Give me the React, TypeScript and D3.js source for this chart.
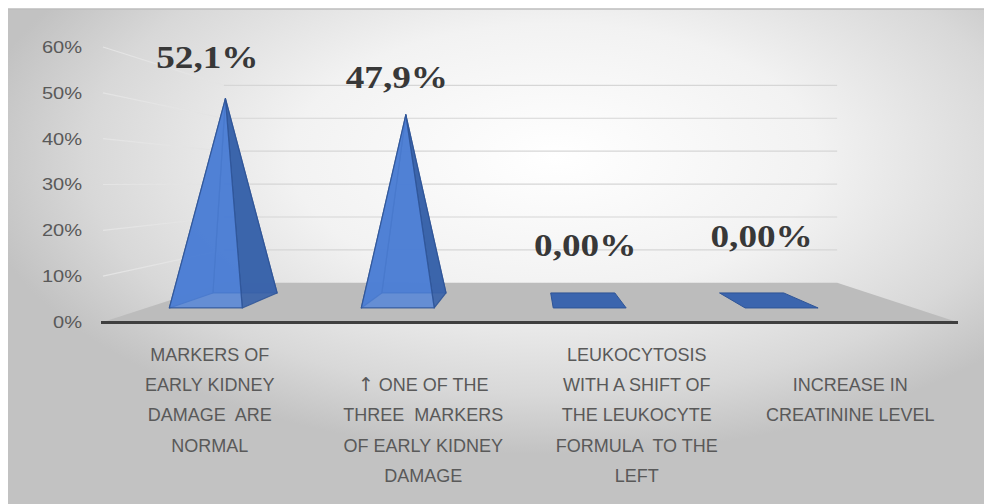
import React, { useRef, useEffect } from 'react';
import * as d3 from 'd3';

// chart data
const categories = [
  'MARKERS OF EARLY KIDNEY DAMAGE ARE NORMAL',
  '↑ ONE OF THE THREE MARKERS OF EARLY KIDNEY DAMAGE',
  'LEUKOCYTOSIS WITH A SHIFT OF THE LEUKOCYTE FORMULA TO THE LEFT',
  'INCREASE IN CREATININE LEVEL',
];
// wrapped label lines as they appear under the axis ('' = blank line)
const categoryLines: string[][] = [
  ['MARKERS OF', 'EARLY KIDNEY', 'DAMAGE  ARE', 'NORMAL'],
  ['', '↑ ONE OF THE', 'THREE  MARKERS', 'OF EARLY KIDNEY', 'DAMAGE'],
  ['LEUKOCYTOSIS', 'WITH A SHIFT OF', 'THE LEUKOCYTE', 'FORMULA  TO THE', 'LEFT'],
  ['', 'INCREASE IN', 'CREATININE LEVEL'],
];
const values = [0.521, 0.479, 0, 0];
const valueLabels = ['52,1%', '47,9%', '0,00%', '0,00%'];
const yTicks = [0, 0.1, 0.2, 0.3, 0.4, 0.5, 0.6];
const yTickLabels = ['0%', '10%', '20%', '30%', '40%', '50%', '60%'];
// manual nudges of the data labels (dragged labels in the original)
const labelNudge = [[-18, -31], [-9, -27], [-1, -44], [-5, -53]];

const W = 984;
const H = 504;

const App: React.FC = () => {
  const ref = useRef<SVGSVGElement>(null);

  useEffect(() => {
    const svg = d3.select(ref.current);
    svg.selectAll('*').remove();

    const plot = { left: 103, right: 957, bottom: 322, top: 47 };
    const vp = { x: 532, y: 183 }; // vanishing point of the 3d view
    const sFloorBack = 0.718;
    const sBarFront = 0.899;
    const sBarBack = 0.791;
    const sBarMid = (sBarFront + sBarBack) / 2;

    const x = d3.scaleBand<string>()
      .domain(categories)
      .range([plot.left, plot.right])
      .paddingInner(0)
      .paddingOuter(0);

    const y = d3.scaleLinear()
      .domain([0, 0.6])
      .range([plot.bottom, plot.top]);

    const bw = x.bandwidth();
    const barShift = -0.19 * bw;
    const barHalf = 0.19 * bw;

    const proj = (X: number, v: number, s: number): [number, number] => [
      vp.x + (X - vp.x) * s,
      vp.y + (y(v) - vp.y) * s,
    ];

    // background
    const defs = svg.append('defs');
    const bg = defs.append('radialGradient')
      .attr('id', 'bg')
      .attr('cx', 0.56).attr('cy', 0.3).attr('r', 0.6);
    bg.append('stop').attr('offset', 0).attr('stop-color', '#ffffff');
    bg.append('stop').attr('offset', 0.45).attr('stop-color', '#f2f2f2');
    bg.append('stop').attr('offset', 0.8).attr('stop-color', '#d8d8d8');
    bg.append('stop').attr('offset', 1).attr('stop-color', '#c2c2c2');

    svg.append('rect')
      .attr('x', 8).attr('y', 9)
      .attr('width', W - 8).attr('height', H - 9)
      .attr('fill', 'url(#bg)');
    svg.append('line')
      .attr('x1', 8).attr('x2', W)
      .attr('y1', 9).attr('y2', 9)
      .attr('stroke', '#bdbdbd').attr('stroke-width', 1.5);

    const line = d3.line();

    // side wall gridlines
    svg.append('g')
      .selectAll('line')
      .data(yTicks.slice(1))
      .join('line')
      .attr('x1', d => proj(plot.left, d, 1)[0])
      .attr('y1', d => proj(plot.left, d, 1)[1])
      .attr('x2', d => proj(plot.left, d, sFloorBack)[0])
      .attr('y2', d => proj(plot.left, d, sFloorBack)[1])
      .attr('stroke', '#e4e4e4')
      .attr('stroke-width', 1.2);

    // back wall gridlines
    svg.append('g')
      .selectAll('line')
      .data(yTicks.slice(1))
      .join('line')
      .attr('x1', d => proj(plot.left, d, sFloorBack)[0])
      .attr('y1', d => proj(plot.left, d, sFloorBack)[1])
      .attr('x2', d => proj(plot.right, d, sFloorBack)[0])
      .attr('y2', d => proj(plot.right, d, sFloorBack)[1])
      .attr('stroke', '#d6d6d6')
      .attr('stroke-width', 1.2);

    // floor
    svg.append('path')
      .attr('d', line([
        proj(plot.left, 0, 1),
        proj(plot.right, 0, 1),
        proj(plot.right, 0, sFloorBack),
        proj(plot.left, 0, sFloorBack),
      ])! + 'Z')
      .attr('fill', '#bcbcbc');

    svg.append('line')
      .attr('x1', plot.left - 2).attr('x2', plot.right + 1)
      .attr('y1', y(0) + 0.5).attr('y2', y(0) + 0.5)
      .attr('stroke', '#3f3f3f')
      .attr('stroke-width', 3);

    // pyramids
    const bars = svg.append('g');
    categories.forEach((c, i) => {
      const cx = x(c)! + bw / 2 + barShift;
      const xl = cx - barHalf;
      const xr = cx + barHalf;
      const fl = proj(xl, 0, sBarFront);
      const fr = proj(xr, 0, sBarFront);
      const br = proj(xr, 0, sBarBack);
      const bl = proj(xl, 0, sBarBack);
      const v = values[i];
      const stroke = '#2f5597';
      if (v <= 0) {
        bars.append('path')
          .attr('d', line([fl, fr, br, bl])! + 'Z')
          .attr('fill', '#3b65ae')
          .attr('stroke', stroke)
          .attr('stroke-width', 1);
        return;
      }
      const apex = proj(cx, v, sBarMid);
      const rightVisible = apex[0] < vp.x;
      const faces: { pts: [number, number][]; fill: string; op: number }[] = [
        { pts: [bl, br, apex], fill: '#4470bd', op: 0.9 },
        rightVisible
          ? { pts: [fl, bl, apex], fill: '#4470bd', op: 0.9 }
          : { pts: [fr, br, apex], fill: '#4470bd', op: 0.9 },
        rightVisible
          ? { pts: [fr, br, apex], fill: '#3a63a9', op: 0.92 }
          : { pts: [fl, bl, apex], fill: '#3a63a9', op: 0.92 },
        { pts: [fl, fr, apex], fill: '#4f82da', op: 0.8 },
      ];
      faces.forEach(f => {
        bars.append('path')
          .attr('d', line(f.pts)! + 'Z')
          .attr('fill', f.fill)
          .attr('fill-opacity', f.op)
          .attr('stroke', stroke)
          .attr('stroke-opacity', 0.85)
          .attr('stroke-width', 1.2)
          .attr('stroke-linejoin', 'round');
      });
    });

    // data labels
    svg.append('g')
      .selectAll('text')
      .data(categories)
      .join('text')
      .attr('transform', (c, i) => {
        const cx = x(c)! + bw / 2 + barShift;
        const [px, py] = proj(cx, values[i], sBarMid);
        return `translate(${px + labelNudge[i][0]},${py + labelNudge[i][1]}) scale(1.2,1)`;
      })
      .attr('text-anchor', 'middle')
      .attr('font-family', '"Liberation Serif", "Times New Roman", serif')
      .attr('font-weight', 'bold')
      .attr('font-size', 31)
      .attr('fill', '#383838')
      .text((c, i) => valueLabels[i]);

    // y axis labels
    svg.append('g')
      .selectAll('text')
      .data(yTicks)
      .join('text')
      .attr('transform', d => `translate(82,${y(d)}) scale(1.18,1)`)
      .attr('dy', '0.35em')
      .attr('text-anchor', 'end')
      .attr('font-family', '"Liberation Sans", Arial, sans-serif')
      .attr('font-size', 17)
      .attr('fill', '#595959')
      .text((d, i) => yTickLabels[i]);

    // category labels
    const cat = svg.append('g')
      .attr('font-family', '"Liberation Sans", Arial, sans-serif')
      .attr('font-size', 18)
      .attr('fill', '#595959')
      .attr('text-anchor', 'middle');
    categories.forEach((c, i) => {
      categoryLines[i].forEach((t, j) => {
        if (!t) return;
        const txt = cat.append('text')
          .attr('x', x(c)! + bw / 2)
          .attr('y', y(0) + 39 + j * 30.2)
          .attr('xml:space', 'preserve');
        if (t.startsWith('↑')) {
          txt.append('tspan')
            .attr('font-family', '"DejaVu Sans", sans-serif')
            .attr('font-size', 19)
            .text('↑');
          txt.append('tspan').text(t.slice(1));
        } else {
          txt.text(t);
        }
      });
    });
  }, []);

  return (
    <svg
      ref={ref}
      width={W}
      height={H}
      style={{ position: 'absolute', left: 0, top: 0, background: '#ffffff' }}
    />
  );
};

export default App;
